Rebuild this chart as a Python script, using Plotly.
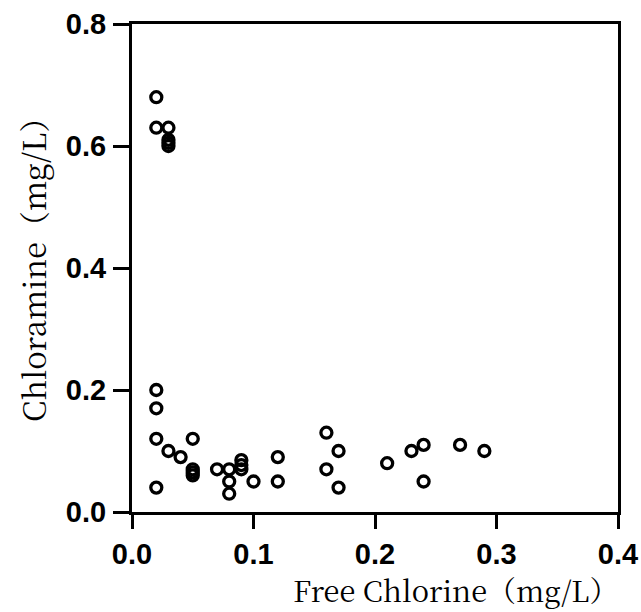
import plotly.graph_objects as go

free_chlorine = [0.02, 0.02, 0.03, 0.03, 0.03, 0.03,
                 0.02, 0.02, 0.02, 0.02, 0.03, 0.04, 0.05, 0.05, 0.05, 0.05,
                 0.07, 0.08, 0.08, 0.08, 0.09, 0.09, 0.09, 0.10, 0.12, 0.12,
                 0.16, 0.16, 0.17, 0.17, 0.21, 0.23, 0.24, 0.24, 0.27, 0.29]
chloramine = [0.68, 0.63, 0.63, 0.61, 0.605, 0.60,
              0.20, 0.17, 0.12, 0.04, 0.10, 0.09, 0.12, 0.07, 0.065, 0.06,
              0.07, 0.07, 0.05, 0.03, 0.085, 0.077, 0.07, 0.05, 0.09, 0.05,
              0.13, 0.07, 0.10, 0.04, 0.08, 0.10, 0.11, 0.05, 0.11, 0.10]

x_ticks = [0.0, 0.1, 0.2, 0.3, 0.4]
y_ticks = [0.0, 0.2, 0.4, 0.6, 0.8]
x_title = "Free Chlorine（mg/L）"
y_title = "Chloramine（mg/L）"

fig = go.Figure()
fig.add_trace(go.Scatter(
    x=free_chlorine, y=chloramine, mode="markers",
    marker=dict(symbol="circle-open", size=11, color="black",
                line=dict(width=3.3, color="black")),
    showlegend=False, cliponaxis=False,
))

tick_font = dict(family="Liberation Sans, Arial, sans-serif", size=29,
                 color="black", weight="bold")
title_font = dict(family="Noto Serif CJK SC, serif", size=29, color="black")

fig.update_xaxes(range=[0, 0.4], tickvals=x_ticks,
                 ticktext=[f"{v:.1f}" for v in x_ticks],
                 showline=True, mirror=True, linewidth=3, linecolor="black",
                 ticks="outside", ticklen=14, tickwidth=3, tickcolor="black",
                 showgrid=False, zeroline=False, tickfont=tick_font,
                 ticklabelstandoff=0, automargin=False)
fig.update_yaxes(range=[0, 0.8], tickvals=y_ticks,
                 ticktext=[f"{v:.1f}" for v in y_ticks],
                 showline=True, mirror=True, linewidth=3, linecolor="black",
                 ticks="outside", ticklen=16, tickwidth=3, tickcolor="black",
                 showgrid=False, zeroline=False, tickfont=tick_font,
                 ticklabelstandoff=1, automargin=False)

fig.add_annotation(text=x_title, xref="paper", yref="paper",
                   x=(455 - 132) / 486, y=-(589 - 512) / 488,
                   xanchor="center", yanchor="middle", showarrow=False,
                   font=title_font)
fig.add_annotation(text=y_title, xref="paper", yref="paper",
                   x=-(132 - 32) / 486, y=(512 - 262) / 488,
                   xanchor="center", yanchor="middle", showarrow=False,
                   textangle=-90, font=dict(family="Noto Serif CJK SC, serif",
                                            size=31, color="black"))

fig.update_layout(width=641, height=612, plot_bgcolor="white",
                  paper_bgcolor="white",
                  margin=dict(l=132, r=23, t=24, b=100, autoexpand=False))

fig.write_html("out.html")
